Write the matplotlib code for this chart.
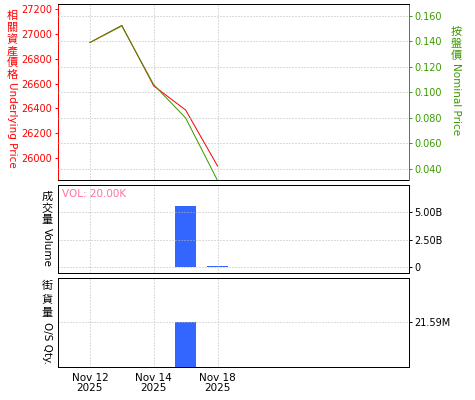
import numpy as np
import matplotlib
matplotlib.use("Agg")
import matplotlib.pyplot as plt
from matplotlib.ticker import FuncFormatter

plt.rcParams["font.family"] = ["DejaVu Sans", "Noto Sans CJK TC"]
CJK = ["Noto Sans CJK TC", "DejaVu Sans"]

# trading days shown on the axis
dates = ["2025-11-12", "2025-11-13", "2025-11-14", "2025-11-17", "2025-11-18"]
tick_dates = ["2025-11-12", "2025-11-14", "2025-11-18"]
underlying = [26932, 27070, 26581, 26386, 25933]
nominal = [0.139, 0.152, 0.106, 0.080, 0.031]
volume = [0, 0, 0, 5.51e9, 0.08e9]
os_qty = [0, 0, 0, 21.59e6, 0]

under_ticks = [26000, 26200, 26400, 26600, 26800, 27000, 27200]
nominal_ticks = [0.04, 0.06, 0.08, 0.10, 0.12, 0.14, 0.16]
volume_ticks = [0, 2.5e9, 5.0e9]
os_ticks = [21.59e6]
vol_note = "VOL: 20.00K"

RED = "#ff0000"
GREEN = "#3c9a00"
BLUE = "#3366ff"
PINK = "#ff6fa5"
GRID = "#b8b8b8"
DOT = (0, (1, 1))
LW = 0.72

x = np.arange(len(dates))
months = {"11": "Nov"}
xt = [dates.index(d) for d in tick_dates]
xl = [f"{months[d[5:7]]} {int(d[8:])}\n{d[:4]}" for d in tick_dates]


def style(ax):
    ax.set_xlim(-1, 10)
    ax.set_xticks(xt)
    ax.tick_params(axis="x", length=0)
    ax.grid(axis="x", color=GRID, linestyle=(0, (1, 2)), linewidth=LW)
    for s in ax.spines.values():
        s.set_linewidth(LW)
        s.set_linestyle(DOT)


fig = plt.figure(figsize=(4.75, 4.0), dpi=100)
W, H = 475, 400
ax1 = fig.add_axes([58 / W, 1 - 180 / H, 351 / W, 176 / H])
ax2 = fig.add_axes([58 / W, 1 - 273 / H, 351 / W, 88 / H])
ax3 = fig.add_axes([58 / W, 1 - 367 / H, 351 / W, 89 / H])

# price panel
style(ax1)
ax1.set_xticklabels([])
ax1r = ax1.twinx()
ax1r.set_xlim(-1, 10)
ax1.plot(x, underlying, color=RED, linewidth=LW)
ax1r.plot(x, nominal, color=GREEN, linewidth=LW)
ax1.set_ylim(25820, 27243)
ax1r.set_ylim(0.0314, 0.1692)
ax1.set_yticks(under_ticks)
ax1r.set_yticks(nominal_ticks)
ax1r.yaxis.set_major_formatter(FuncFormatter(lambda v, p: f"{v:.3f}"))
ax1.tick_params(axis="y", colors=RED, labelsize=7, length=2.5, width=LW, pad=1.5)
ax1r.tick_params(axis="y", colors=GREEN, labelsize=7, length=2.5, width=LW, pad=1.5)
ax1r.grid(axis="y", color=GRID, linestyle=(0, (1, 2)), linewidth=LW)
ax1.spines["left"].set_linestyle("-")
ax1.spines["left"].set_color(RED)
for s in ax1r.spines.values():
    s.set_visible(False)
ax1r.spines["right"].set_visible(True)
ax1r.spines["right"].set_color(GREEN)
ax1r.spines["right"].set_linestyle(DOT)
ax1r.spines["right"].set_linewidth(LW)
ax1.spines["right"].set_visible(False)

# volume panel
style(ax2)
ax2.set_xticklabels([])
ax2.bar(x, volume, width=0.68, color=BLUE, linewidth=0)
ax2.set_ylim(-0.51e9, 7.4e9)
ax2.yaxis.tick_right()
ax2.set_yticks(volume_ticks)
ax2.yaxis.set_major_formatter(FuncFormatter(lambda v, p: "0" if v == 0 else f"{v / 1e9:.2f}B"))
ax2.tick_params(axis="y", labelsize=7, length=2.5, width=LW, pad=1.5)
ax2.grid(axis="y", color=GRID, linestyle=(0, (1, 2)), linewidth=LW)
ax2.spines["right"].set_linestyle("-")
ax2.text(0.012, 0.96, vol_note, transform=ax2.transAxes, color=PINK,
         fontsize=7.5, ha="left", va="top")

# outstanding quantity panel
style(ax3)
ax3.set_xticklabels(xl, fontsize=7.5, linespacing=1.1)
ax3.bar(x, os_qty, width=0.68, color=BLUE, linewidth=0)
ax3.set_ylim(0, 42.98e6)
ax3.yaxis.tick_right()
ax3.set_yticks(os_ticks)
ax3.yaxis.set_major_formatter(FuncFormatter(lambda v, p: f"{v / 1e6:.2f}M"))
ax3.tick_params(axis="y", labelsize=7, length=2.5, width=LW, pad=1.5)
ax3.tick_params(axis="x", pad=4)
ax3.grid(axis="y", color=GRID, linestyle=(0, (1, 2)), linewidth=LW)
ax3.spines["right"].set_linestyle("-")
ax3.spines["bottom"].set_linestyle("-")


# axis titles: upright CJK characters stacked, latin part turned
def vlabel(xpix, ypix, cjk, latin, color, pitch=11.7):
    for i, ch in enumerate(cjk):
        fig.text(xpix / W, 1 - (ypix + i * pitch) / H, ch, family=CJK, fontsize=8,
                 color=color, ha="center", va="top")
    ylat = ypix + len(cjk) * pitch + 1
    fig.text(xpix / W, 1 - ylat / H, latin, fontsize=7.5, color=color,
             rotation=270, ha="center", va="top")


vlabel(12, 11, "相關資產價格", "Underlying Price", RED)
vlabel(456, 27, "按盤價", "Nominal Price", GREEN)
vlabel(47, 192, "成交量", "Volume", "black", pitch=11.5)
vlabel(47, 281, "街貨量", "O/S Qty.", "black", pitch=13.5)

fig.savefig("out.png", dpi=100)
